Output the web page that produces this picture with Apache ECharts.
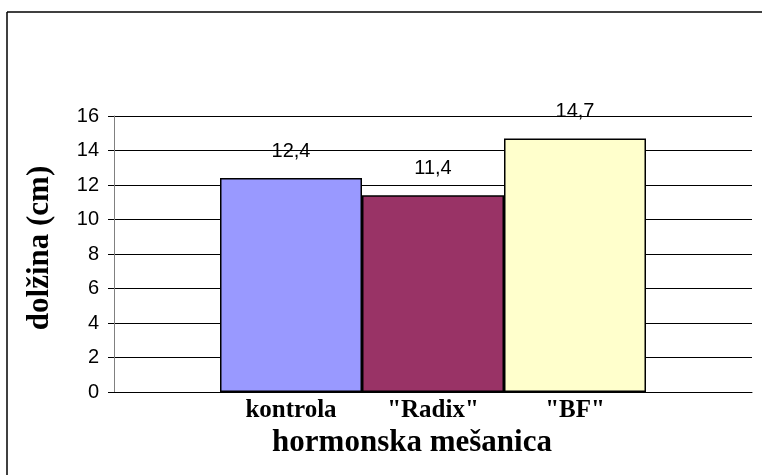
<!DOCTYPE html>
<html>
<head>
<meta charset="utf-8">
<script src="https://cdn.jsdelivr.net/npm/echarts@6/dist/echarts.min.js"></script>
<style>
  html, body { margin: 0; padding: 0; background: #fff; }
  #chart { width: 762px; height: 475px; }
</style>
</head>
<body>
<div id="chart"></div>
<script>
// Plant length by hormone mixture
const categories = ['kontrola', '"Radix"', '"BF"'];
const values = [12.4, 11.4, 14.7];
const barColors = ['#9999FF', '#993366', '#FFFFCC'];
const yTicks = { min: 0, max: 16, step: 2 };
const yTitle = 'dolžina (cm)';
const xTitle = 'hormonska mešanica';

const chart = echarts.init(document.getElementById('chart'), null, { renderer: 'canvas' });

const serifFamily = '"Liberation Serif", "Times New Roman", serif';
const sans = '"Liberation Sans", Arial, sans-serif';

chart.setOption({
  animation: false,
  backgroundColor: '#fff',
  grid: [
    // full plot area: value axis, gridlines
    { left: 114, right: 10, top: 116, bottom: 83 },
    // inner band holding the three adjoining bars
    { left: 220, right: 116, top: 116, bottom: 83 }
  ],
  xAxis: [
    {
      gridIndex: 0, type: 'category', data: [''],
      axisLine: { show: true, lineStyle: { color: '#000', width: 1 } },
      axisTick: { show: false }, axisLabel: { show: false }
    },
    {
      gridIndex: 1, type: 'category', data: categories,
      axisLine: { show: false }, axisTick: { show: false },
      axisLabel: { fontFamily: serifFamily, fontWeight: 'bold', color: '#000', fontSize: 25, margin: 6 }
    }
  ],
  yAxis: [
    {
      gridIndex: 0, type: 'value',
      min: yTicks.min, max: yTicks.max, interval: yTicks.step,
      axisLine: { show: true, lineStyle: { color: '#808080', width: 1 } },
      axisTick: { show: true, inside: false, length: 6, lineStyle: { color: '#000' } },
      axisLabel: { fontFamily: sans, fontSize: 20, color: '#000', margin: 15 },
      splitLine: { show: true, lineStyle: { color: '#000', width: 1 } }
    },
    {
      gridIndex: 1, type: 'value',
      min: yTicks.min, max: yTicks.max, interval: yTicks.step,
      show: false, splitLine: { show: false }
    }
  ],
  series: [{
    type: 'bar',
    xAxisIndex: 1, yAxisIndex: 1,
    barCategoryGap: 0,
    data: values.map((v, i) => ({
      value: v,
      itemStyle: { color: barColors[i], borderColor: '#000', borderWidth: 1.5 }
    })),
    label: {
      show: true, position: 'top', distance: 17,
      fontFamily: sans, fontSize: 20, color: '#000',
      formatter: p => String(p.value).replace('.', ',')
    },
    z: 3
  }],
  graphic: [
    // chart frame (left and top edges)
    { type: 'line', shape: { x1: 7, y1: 12, x2: 7, y2: 475 }, style: { stroke: '#000', lineWidth: 1.5 } },
    { type: 'line', shape: { x1: 7, y1: 12, x2: 762, y2: 12 }, style: { stroke: '#000', lineWidth: 1.5 } },
    {
      type: 'text', x: 40, y: 248, rotation: Math.PI / 2,
      style: { text: yTitle, fontSize: 31, align: 'center', verticalAlign: 'middle',
        fontFamily: serifFamily, fontWeight: 'bold', fill: '#000' }
    },
    {
      type: 'text', x: 412, y: 443,
      style: { text: xTitle, fontSize: 31, align: 'center', verticalAlign: 'middle',
        fontFamily: serifFamily, fontWeight: 'bold', fill: '#000' }
    }
  ]
});
</script>
</body>
</html>
